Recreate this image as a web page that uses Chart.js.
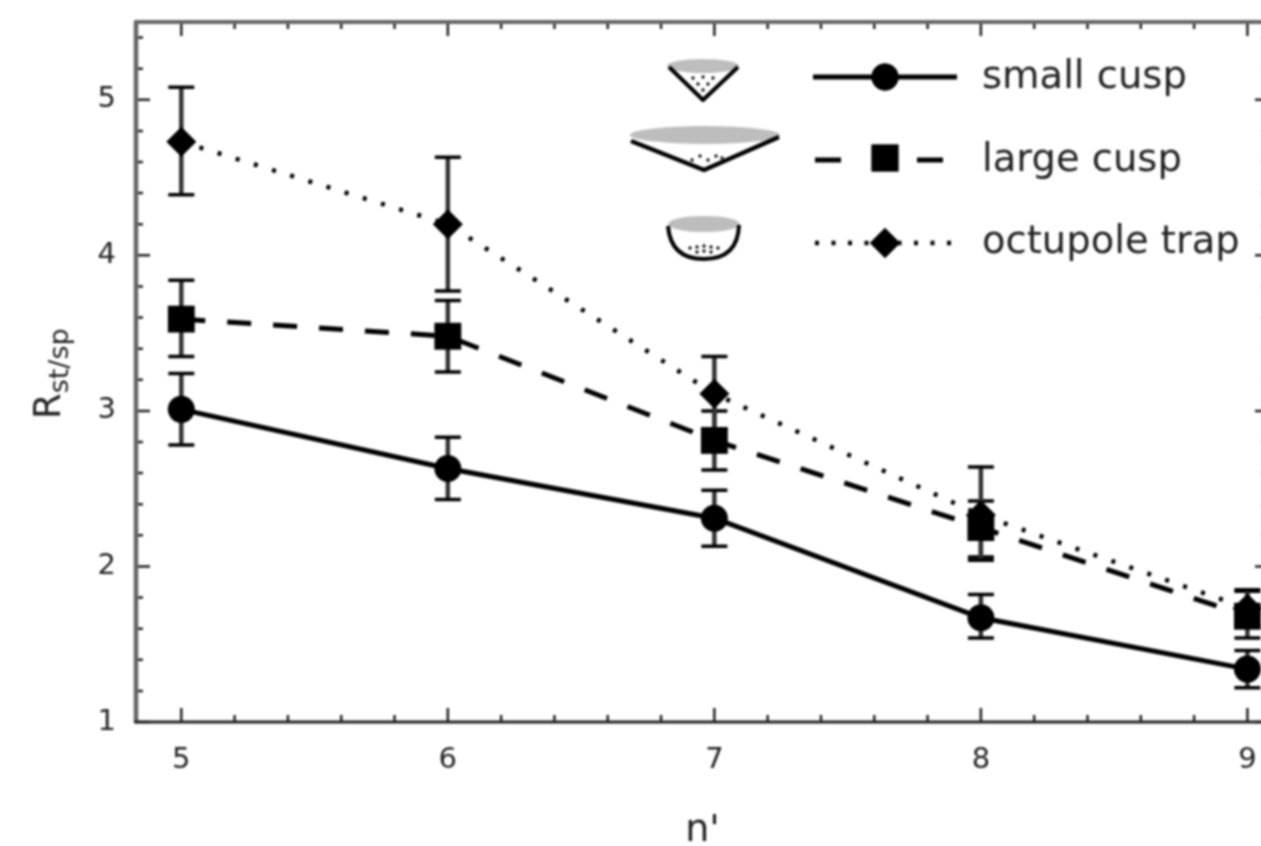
<!DOCTYPE html>
<html><head><meta charset="utf-8">
<style>html,body{margin:0;padding:0;background:#fff;overflow:hidden;width:1261px;height:846px}
#w{position:absolute;left:0;top:0;width:1288px;height:846px}
canvas{display:block;filter:blur(0.9px)}</style>
<script src="https://cdn.jsdelivr.net/npm/chart.js@4"></script></head>
<body><div id="w"><canvas id="c" width="1288" height="846"></canvas></div>
<script>
const nPrime=[5,6,7,8,9];
const yTicks=[1,2,3,4,5];
const smallCusp=[3.01,2.63,2.31,1.67,1.34];
const smallLow=[2.78,2.43,2.13,1.54,1.22];
const smallHigh=[3.24,2.83,2.49,1.82,1.46];
const largeCusp=[3.59,3.48,2.81,2.25,1.68];
const largeLow=[3.35,3.25,2.62,2.06,1.54];
const largeHigh=[3.84,3.71,3.00,2.42,1.84];
const octupole=[4.73,4.20,3.11,2.33,1.73];
const octLow=[4.39,3.77,2.88,2.04,1.62];
const octHigh=[5.08,4.63,3.35,2.64,1.85];
const names=['small cusp','large cusp','octupole trap'];
const xTitle="n'";
const yTitleMain='R', yTitleSub='st/sp';
const pts=a=>a.map((v,i)=>({x:nPrime[i],y:v}));
const FONT='"DejaVu Sans"';
const INK='#000', TXT='#222';
const lows=[smallLow,largeLow,octLow], highs=[smallHigh,largeHigh,octHigh];

const deco={id:'deco',
 beforeDatasetsDraw(ch){
  const g=ch.ctx,xs=ch.scales.x,ys=ch.scales.y;
  g.save();g.setLineDash([]);
  lows.forEach((lo,s)=>lo.forEach((v,i)=>{
    const x=xs.getPixelForValue(nPrime[i]),y1=ys.getPixelForValue(v),y2=ys.getPixelForValue(highs[s][i]);
    g.strokeStyle='#333';g.lineWidth=4.5;g.beginPath();g.moveTo(x,y1);g.lineTo(x,y2);g.stroke();
    g.strokeStyle=INK;g.lineWidth=3.5;g.beginPath();
    g.moveTo(x-13,y1);g.lineTo(x+13,y1);g.moveTo(x-13,y2);g.lineTo(x+13,y2);g.stroke();
  }));
  g.restore();
 },
 afterDraw(ch){
  const g=ch.ctx,xs=ch.scales.x,ys=ch.scales.y,a=ch.chartArea;
  g.save();
  g.strokeStyle='#222';g.lineWidth=2.5;
  for(let k=24;k<=46;k++){const v=k/5;if(v<xs.min||v>xs.max)continue;
    const L=k%5===0?14:7,x=xs.getPixelForValue(v);
    g.beginPath();g.moveTo(x,a.bottom);g.lineTo(x,a.bottom-L);g.moveTo(x,a.top);g.lineTo(x,a.top+L);g.stroke();}
  for(let k=5;k<=27;k++){const v=k/5;if(v<ys.min||v>ys.max)continue;
    const L=k%5===0?14:7,y=ys.getPixelForValue(v);
    g.beginPath();g.moveTo(a.left,y);g.lineTo(a.left+L,y);g.moveTo(a.right,y);g.lineTo(a.right-L,y);g.stroke();}
  const seg=(c,w,x1,y1,x2,y2)=>{g.strokeStyle=c;g.lineWidth=w;g.beginPath();g.moveTo(x1,y1);g.lineTo(x2,y2);g.stroke();};
  seg('#666',4,a.left-2,a.top,a.right,a.top);
  seg('#666',4.5,a.left,a.top,a.left,a.bottom);
  seg('#666',4,a.right,a.top,a.right,a.bottom);
  seg('#222',3,a.left-2,a.bottom,a.right,a.bottom);
  g.fillStyle=TXT;g.save();g.translate(60,419);g.rotate(-Math.PI/2);
  g.textBaseline='alphabetic';g.textAlign='left';
  g.font='37px '+FONT;g.fillText(yTitleMain,0,0);
  const w=g.measureText(yTitleMain).width;
  g.font='27px '+FONT;g.fillText(yTitleSub,w,8);g.restore();
  const rows=[77,160,243];
  ch.data.datasets.forEach((d,i)=>{
    const y=rows[i];
    g.strokeStyle=INK;g.lineWidth=d.borderWidth;g.setLineDash(d.borderDash||[]);
    if(i===0){g.beginPath();g.moveTo(813,y);g.lineTo(957,y);g.stroke();}
    if(i===1){g.setLineDash([]);[[815,841],[917,943]].forEach(p=>{g.beginPath();g.moveTo(p[0],y);g.lineTo(p[1],y);g.stroke();});}
    if(i===2){g.setLineDash([4,12.5]);g.beginPath();g.moveTo(815,y);g.lineTo(957,y);g.stroke();}
    g.setLineDash([]);g.fillStyle=INK;
    Chart.helpers.drawPoint(g,{pointStyle:d.pointStyle,radius:d.pointRadius,rotation:0,borderWidth:0},885,y-(i===1?2:0));
    g.fill();
    g.fillStyle=TXT;g.font='38.5px '+FONT;g.textAlign='left';g.textBaseline='alphabetic';
    g.fillText(names[i],982,y+[11,11,10][i]);
  });
  const ell=(cx,cy,rx,ry)=>{g.fillStyle='#bdbdbd';g.beginPath();g.ellipse(cx,cy,rx,ry,0,0,Math.PI*2);g.fill();};
  const dots=(l)=>{g.fillStyle='#111';l.forEach(p=>{g.beginPath();g.arc(p[0],p[1],1.7,0,Math.PI*2);g.fill();});};
  g.strokeStyle=INK;g.lineJoin='round';
  ell(703,66,36,7);g.lineWidth=4;g.beginPath();g.moveTo(669,67);g.lineTo(703,100);g.lineTo(738,67);g.stroke();
  dots([[693,78],[703,77],[713,78],[698,84],[708,84],[703,90]]);
  ell(705,135,75,9);g.lineWidth=4.5;g.beginPath();g.moveTo(631,141);g.lineTo(704,170);g.lineTo(779,137);g.stroke();
  dots([[692,160],[700,156],[708,160],[716,156],[722,158]]);
  ell(704,224,36,8);g.lineWidth=4;g.beginPath();g.moveTo(668,226);g.bezierCurveTo(670,252,686,259,704,259);g.bezierCurveTo(722,259,738,252,739,225);g.stroke();
  dots([[690,248],[697,247],[704,246],[711,247],[718,248],[697,252],[704,251],[711,252]]);
  g.restore();
 }};

new Chart(document.getElementById('c'),{
 type:'scatter',
 data:{datasets:[
  {label:names[0],data:pts(smallCusp),showLine:true,borderColor:INK,backgroundColor:INK,borderWidth:5,pointStyle:'circle',pointRadius:13.5,pointBorderWidth:0},
  {label:names[1],data:pts(largeCusp),showLine:true,borderColor:INK,backgroundColor:INK,borderWidth:5,borderDash:[24,22],pointStyle:'rect',pointRadius:19,pointBorderWidth:0},
  {label:names[2],data:pts(octupole),showLine:true,borderColor:INK,backgroundColor:INK,borderWidth:4.5,borderDash:[4,15],pointStyle:'rectRot',pointRadius:15,pointBorderWidth:0}
 ]},
 options:{responsive:false,animation:false,events:[],
  layout:{padding:{top:22,right:2,left:0,bottom:0}},
  plugins:{legend:{display:false},tooltip:{enabled:false}},
  scales:{
   x:{type:'linear',min:4.83,max:9.081,grid:{display:false},border:{display:false},
     ticks:{stepSize:1,includeBounds:false,font:{size:29,family:FONT},color:TXT,padding:13,maxRotation:0,autoSkip:false},
     title:{display:true,text:xTitle,font:{size:38,family:FONT},color:TXT,padding:{top:0,bottom:-8}},
     afterFit(s){s.height=124;s.paddingLeft=0;s.paddingRight=0;}},
   y:{type:'linear',min:1,max:5.5,grid:{display:false},border:{display:false},
     ticks:{stepSize:1,includeBounds:false,font:{size:29,family:FONT},color:TXT,padding:12,callback:v=>yTicks.includes(v)?String(v):''},
     afterFit(s){s.width=136;s.paddingTop=0;s.paddingBottom=0;}}
  }},
 plugins:[deco]
});
</script></body></html>
